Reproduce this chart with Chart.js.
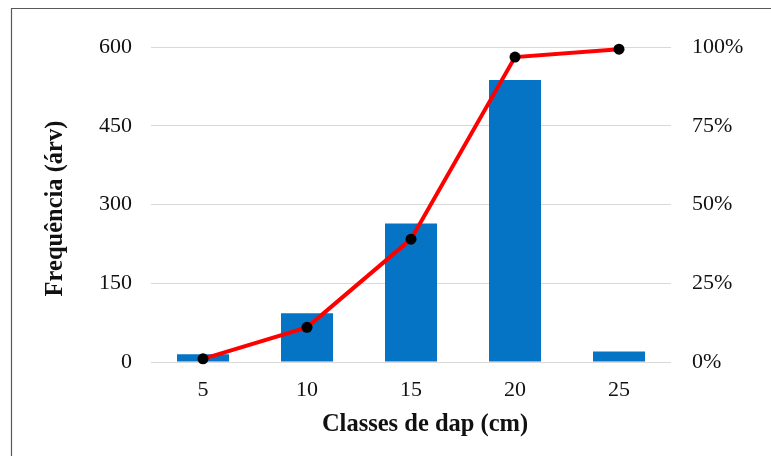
<!DOCTYPE html>
<html lang="pt">
<head>
<meta charset="utf-8">
<script src="https://cdn.jsdelivr.net/npm/chart.js@4/dist/chart.umd.min.js"></script>
<style>
  html, body { margin: 0; padding: 0; background: #fff; }
  canvas { display: block; }
</style>
</head>
<body>
<canvas id="grafico" width="771" height="456"></canvas>
<script>
// Classes de diâmetro (cm) e frequência de árvores por classe
const classes = ['5', '10', '15', '20', '25'];
const frequencia = [15, 93, 264, 537, 20];
// Frequência acumulada (%)
const acumulado = [1, 11, 39, 96.8, 99.3];
const ticksFreq = [0, 150, 300, 450, 600];
const ticksPct = [0, 25, 50, 75, 100];

const serif = '"Liberation Serif", "Times New Roman", serif';
const tickFont = { family: serif, size: 22 };
const textColor = '#111';

// Moldura (linhas superior e esquerda) e títulos dos eixos
const moldura = {
  id: 'moldura',
  beforeDraw(chart) {
    const ctx = chart.ctx;
    ctx.save();
    ctx.strokeStyle = '#595959';
    ctx.lineWidth = 1.2;
    ctx.beginPath();
    ctx.moveTo(11.5, chart.height);
    ctx.lineTo(11.5, 8.5);
    ctx.lineTo(chart.width, 8.5);
    ctx.stroke();
    ctx.restore();
  },
  afterDraw(chart) {
    const ctx = chart.ctx;
    const a = chart.chartArea;
    ctx.save();
    ctx.fillStyle = textColor;
    ctx.font = 'bold 24.5px ' + serif;
    ctx.textAlign = 'center';
    ctx.textBaseline = 'middle';
    ctx.fillText('Classes de dap (cm)', (a.left + a.right) / 2 + 14, a.bottom + 63);
    ctx.translate(56, (a.top + a.bottom) / 2 + 4);
    ctx.rotate(-Math.PI / 2);
    ctx.fillText('Frequência (árv)', 0, 0);
    ctx.restore();
  }
};

new Chart(document.getElementById('grafico'), {
  data: {
    labels: classes,
    datasets: [
      {
        type: 'line',
        label: 'Frequência acumulada',
        data: acumulado,
        yAxisID: 'yPct',
        borderColor: '#ff0000',
        borderWidth: 4,
        pointRadius: 5.5,
        pointBackgroundColor: '#000',
        pointBorderColor: '#000',
        pointBorderWidth: 0,
        tension: 0,
        clip: false,
        order: 0
      },
      {
        type: 'bar',
        label: 'Frequência',
        data: frequencia,
        yAxisID: 'yFreq',
        backgroundColor: '#0574C5',
        barPercentage: 0.5,
        categoryPercentage: 1,
        order: 1
      }
    ]
  },
  options: {
    responsive: false,
    animation: false,
    devicePixelRatio: 1,
    layout: { padding: { top: 47, left: 0, right: 0, bottom: 0 } },
    plugins: { legend: { display: false }, tooltip: { enabled: false } },
    scales: {
      x: {
        grid: { display: false },
        border: { display: false },
        ticks: { font: tickFont, color: textColor, padding: 7, maxRotation: 0 },
        afterFit(s) { s.height = 94; }
      },
      yFreq: {
        position: 'left',
        min: 0,
        max: 600,
        afterBuildTicks(s) { s.ticks = ticksFreq.map(v => ({ value: v })); },
        grid: { color: '#d9d9d9', lineWidth: 1, drawTicks: false },
        border: { display: false },
        ticks: { font: tickFont, color: textColor, padding: 19 },
        afterFit(s) { s.width = 151; }
      },
      yPct: {
        position: 'right',
        min: 0,
        max: 100,
        afterBuildTicks(s) { s.ticks = ticksPct.map(v => ({ value: v })); },
        grid: { display: false, drawTicks: false },
        border: { display: false },
        ticks: { font: tickFont, color: textColor, padding: 21, callback: v => v + '%' },
        afterFit(s) { s.width = 100; }
      }
    }
  },
  plugins: [moldura]
});
</script>
</body>
</html>
